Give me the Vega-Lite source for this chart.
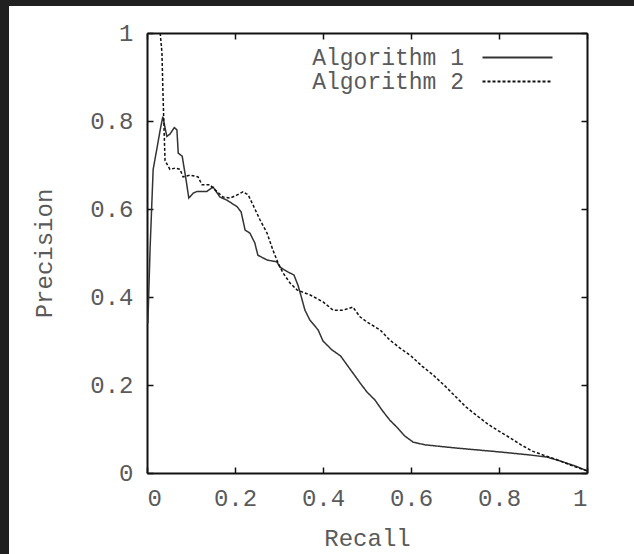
{
  "$schema": "https://vega.github.io/schema/vega-lite/v6.json",
  "width": 625,
  "height": 548,
  "autosize": {"type": "none"},
  "padding": {"left": 9, "top": 6, "right": 0, "bottom": 0},
  "background": "#202020",
  "config": {
    "view": {"fill": "white", "stroke": null},
    "font": "Liberation Mono",
    "axis": {"grid": false, "labelFont": "Liberation Mono", "titleFont": "Liberation Mono", "labelColor": "#5a5a5a", "titleColor": "#5a5a5a", "labelFontSize": 24, "titleFontSize": 24, "titleFontWeight": "normal", "domainColor": "#111111", "domainWidth": 2, "tickColor": "#111111", "tickWidth": 1.5}
  },
  "data": {"values": [
    {"series": "Algorithm 1", "recall": 0.002, "precision": 0.34},
    {"series": "Algorithm 1", "recall": 0.007, "precision": 0.51},
    {"series": "Algorithm 1", "recall": 0.014, "precision": 0.69},
    {"series": "Algorithm 1", "recall": 0.023, "precision": 0.74},
    {"series": "Algorithm 1", "recall": 0.03, "precision": 0.78},
    {"series": "Algorithm 1", "recall": 0.036, "precision": 0.81},
    {"series": "Algorithm 1", "recall": 0.045, "precision": 0.765},
    {"series": "Algorithm 1", "recall": 0.052, "precision": 0.77},
    {"series": "Algorithm 1", "recall": 0.062, "precision": 0.785},
    {"series": "Algorithm 1", "recall": 0.068, "precision": 0.78},
    {"series": "Algorithm 1", "recall": 0.071, "precision": 0.727},
    {"series": "Algorithm 1", "recall": 0.08, "precision": 0.72},
    {"series": "Algorithm 1", "recall": 0.089, "precision": 0.665},
    {"series": "Algorithm 1", "recall": 0.095, "precision": 0.625},
    {"series": "Algorithm 1", "recall": 0.105, "precision": 0.636},
    {"series": "Algorithm 1", "recall": 0.114, "precision": 0.64},
    {"series": "Algorithm 1", "recall": 0.136, "precision": 0.64},
    {"series": "Algorithm 1", "recall": 0.15, "precision": 0.65},
    {"series": "Algorithm 1", "recall": 0.166, "precision": 0.627},
    {"series": "Algorithm 1", "recall": 0.182, "precision": 0.62},
    {"series": "Algorithm 1", "recall": 0.205, "precision": 0.605},
    {"series": "Algorithm 1", "recall": 0.214, "precision": 0.593},
    {"series": "Algorithm 1", "recall": 0.223, "precision": 0.552},
    {"series": "Algorithm 1", "recall": 0.234, "precision": 0.545},
    {"series": "Algorithm 1", "recall": 0.245, "precision": 0.523},
    {"series": "Algorithm 1", "recall": 0.252, "precision": 0.495},
    {"series": "Algorithm 1", "recall": 0.273, "precision": 0.484},
    {"series": "Algorithm 1", "recall": 0.295, "precision": 0.48},
    {"series": "Algorithm 1", "recall": 0.302, "precision": 0.468},
    {"series": "Algorithm 1", "recall": 0.32, "precision": 0.457},
    {"series": "Algorithm 1", "recall": 0.334, "precision": 0.45},
    {"series": "Algorithm 1", "recall": 0.343, "precision": 0.427},
    {"series": "Algorithm 1", "recall": 0.348, "precision": 0.41},
    {"series": "Algorithm 1", "recall": 0.359, "precision": 0.37},
    {"series": "Algorithm 1", "recall": 0.37, "precision": 0.348},
    {"series": "Algorithm 1", "recall": 0.389, "precision": 0.325},
    {"series": "Algorithm 1", "recall": 0.4, "precision": 0.3},
    {"series": "Algorithm 1", "recall": 0.42, "precision": 0.28},
    {"series": "Algorithm 1", "recall": 0.44, "precision": 0.266},
    {"series": "Algorithm 1", "recall": 0.45, "precision": 0.252},
    {"series": "Algorithm 1", "recall": 0.466, "precision": 0.23},
    {"series": "Algorithm 1", "recall": 0.484, "precision": 0.205},
    {"series": "Algorithm 1", "recall": 0.5, "precision": 0.184},
    {"series": "Algorithm 1", "recall": 0.518, "precision": 0.166},
    {"series": "Algorithm 1", "recall": 0.534, "precision": 0.143},
    {"series": "Algorithm 1", "recall": 0.552, "precision": 0.12},
    {"series": "Algorithm 1", "recall": 0.57, "precision": 0.102},
    {"series": "Algorithm 1", "recall": 0.586, "precision": 0.084},
    {"series": "Algorithm 1", "recall": 0.605, "precision": 0.07},
    {"series": "Algorithm 1", "recall": 0.632, "precision": 0.064},
    {"series": "Algorithm 1", "recall": 0.7, "precision": 0.057},
    {"series": "Algorithm 1", "recall": 0.8, "precision": 0.048},
    {"series": "Algorithm 1", "recall": 0.87, "precision": 0.041},
    {"series": "Algorithm 1", "recall": 0.91, "precision": 0.036},
    {"series": "Algorithm 1", "recall": 0.94, "precision": 0.027},
    {"series": "Algorithm 1", "recall": 0.973, "precision": 0.016},
    {"series": "Algorithm 1", "recall": 1.0, "precision": 0.005},
    {"series": "Algorithm 2", "recall": 0.03, "precision": 1.0},
    {"series": "Algorithm 2", "recall": 0.034, "precision": 0.955},
    {"series": "Algorithm 2", "recall": 0.036, "precision": 0.875},
    {"series": "Algorithm 2", "recall": 0.038, "precision": 0.807},
    {"series": "Algorithm 2", "recall": 0.041, "precision": 0.71},
    {"series": "Algorithm 2", "recall": 0.052, "precision": 0.69},
    {"series": "Algorithm 2", "recall": 0.064, "precision": 0.693},
    {"series": "Algorithm 2", "recall": 0.075, "precision": 0.69},
    {"series": "Algorithm 2", "recall": 0.082, "precision": 0.673},
    {"series": "Algorithm 2", "recall": 0.098, "precision": 0.677},
    {"series": "Algorithm 2", "recall": 0.116, "precision": 0.673},
    {"series": "Algorithm 2", "recall": 0.125, "precision": 0.655},
    {"series": "Algorithm 2", "recall": 0.143, "precision": 0.655},
    {"series": "Algorithm 2", "recall": 0.15, "precision": 0.648},
    {"series": "Algorithm 2", "recall": 0.173, "precision": 0.627},
    {"series": "Algorithm 2", "recall": 0.189, "precision": 0.625},
    {"series": "Algorithm 2", "recall": 0.205, "precision": 0.632},
    {"series": "Algorithm 2", "recall": 0.218, "precision": 0.639},
    {"series": "Algorithm 2", "recall": 0.23, "precision": 0.632},
    {"series": "Algorithm 2", "recall": 0.241, "precision": 0.609},
    {"series": "Algorithm 2", "recall": 0.257, "precision": 0.575},
    {"series": "Algorithm 2", "recall": 0.273, "precision": 0.545},
    {"series": "Algorithm 2", "recall": 0.286, "precision": 0.507},
    {"series": "Algorithm 2", "recall": 0.298, "precision": 0.477},
    {"series": "Algorithm 2", "recall": 0.309, "precision": 0.455},
    {"series": "Algorithm 2", "recall": 0.325, "precision": 0.432},
    {"series": "Algorithm 2", "recall": 0.341, "precision": 0.416},
    {"series": "Algorithm 2", "recall": 0.37, "precision": 0.405},
    {"series": "Algorithm 2", "recall": 0.4, "precision": 0.389},
    {"series": "Algorithm 2", "recall": 0.423, "precision": 0.37},
    {"series": "Algorithm 2", "recall": 0.445, "precision": 0.37},
    {"series": "Algorithm 2", "recall": 0.468, "precision": 0.377},
    {"series": "Algorithm 2", "recall": 0.484, "precision": 0.355},
    {"series": "Algorithm 2", "recall": 0.5, "precision": 0.343},
    {"series": "Algorithm 2", "recall": 0.53, "precision": 0.325},
    {"series": "Algorithm 2", "recall": 0.552, "precision": 0.302},
    {"series": "Algorithm 2", "recall": 0.575, "precision": 0.284},
    {"series": "Algorithm 2", "recall": 0.6, "precision": 0.266},
    {"series": "Algorithm 2", "recall": 0.625, "precision": 0.243},
    {"series": "Algorithm 2", "recall": 0.65, "precision": 0.223},
    {"series": "Algorithm 2", "recall": 0.677, "precision": 0.198},
    {"series": "Algorithm 2", "recall": 0.7, "precision": 0.175},
    {"series": "Algorithm 2", "recall": 0.725, "precision": 0.15},
    {"series": "Algorithm 2", "recall": 0.75, "precision": 0.13},
    {"series": "Algorithm 2", "recall": 0.775, "precision": 0.111},
    {"series": "Algorithm 2", "recall": 0.8, "precision": 0.095},
    {"series": "Algorithm 2", "recall": 0.825, "precision": 0.08},
    {"series": "Algorithm 2", "recall": 0.85, "precision": 0.064},
    {"series": "Algorithm 2", "recall": 0.875, "precision": 0.05},
    {"series": "Algorithm 2", "recall": 0.9, "precision": 0.041},
    {"series": "Algorithm 2", "recall": 0.927, "precision": 0.032},
    {"series": "Algorithm 2", "recall": 0.95, "precision": 0.023},
    {"series": "Algorithm 2", "recall": 0.973, "precision": 0.014},
    {"series": "Algorithm 2", "recall": 1.0, "precision": 0.005}
  ]},
  "resolve": {"axis": {"x": "independent", "y": "independent"}},
  "layer": [
    {
      "mark": {"type": "line", "strokeWidth": 1.5},
      "encoding": {
        "x": {"field": "recall", "type": "quantitative",
          "scale": {"domain": [0, 1], "range": [138, 578], "nice": false, "zero": false},
          "axis": {"orient": "bottom", "offset": -81, "values": [0, 0.2, 0.4, 0.6, 0.8, 1], "format": "~g", "tickSize": -6, "labelPadding": 19, "labelDx": 9, "title": "Recall", "titlePadding": 16}},
        "y": {"field": "precision", "type": "quantitative",
          "scale": {"domain": [0, 1], "range": [467, 27], "nice": false, "zero": false},
          "axis": {"orient": "left", "offset": -138, "values": [0, 0.2, 0.4, 0.6, 0.8, 1], "format": "~g", "tickSize": -6, "labelPadding": 20, "labelDy": 1, "title": "Precision", "titlePadding": 33}},
        "color": {"field": "series", "type": "nominal",
          "scale": {"domain": ["Algorithm 1", "Algorithm 2"], "range": ["#333333", "#111111"]},
          "legend": {"orient": "none", "legendX": 497, "legendY": 40, "title": null, "symbolType": "M-3.5,0H3.5", "symbolSize": 400, "symbolStrokeWidth": 2, "labelAlign": "right", "labelOffset": -65, "labelFont": "Liberation Mono", "labelFontSize": 23, "labelColor": "#5a5a5a", "rowPadding": 0, "padding": 0}},
        "strokeDash": {"field": "series", "type": "nominal",
          "scale": {"domain": ["Algorithm 1", "Algorithm 2"], "range": [[1, 0], [3, 2]]},
          "legend": {"orient": "none", "legendX": 497, "legendY": 40, "title": null, "symbolType": "M-3.5,0H3.5", "symbolSize": 400, "symbolStrokeWidth": 2, "labelAlign": "right", "labelOffset": -65, "labelFont": "Liberation Mono", "labelFontSize": 23, "labelColor": "#5a5a5a", "rowPadding": 0, "padding": 0}}
      }
    },
    {
      "mark": {"type": "line", "strokeOpacity": 0},
      "encoding": {
        "x": {"field": "recall", "type": "quantitative",
          "scale": {"domain": [0, 1], "range": [138, 578], "nice": false, "zero": false},
          "axis": {"orient": "top", "offset": -27, "values": [0, 0.2, 0.4, 0.6, 0.8, 1], "tickSize": -6, "labels": false, "title": null}},
        "y": {"field": "precision", "type": "quantitative",
          "scale": {"domain": [0, 1], "range": [467, 27], "nice": false, "zero": false},
          "axis": {"orient": "right", "offset": -47, "values": [0, 0.2, 0.4, 0.6, 0.8, 1], "tickSize": -6, "labels": false, "title": null}},
        "detail": {"field": "series", "type": "nominal"}
      }
    }
  ]
}
